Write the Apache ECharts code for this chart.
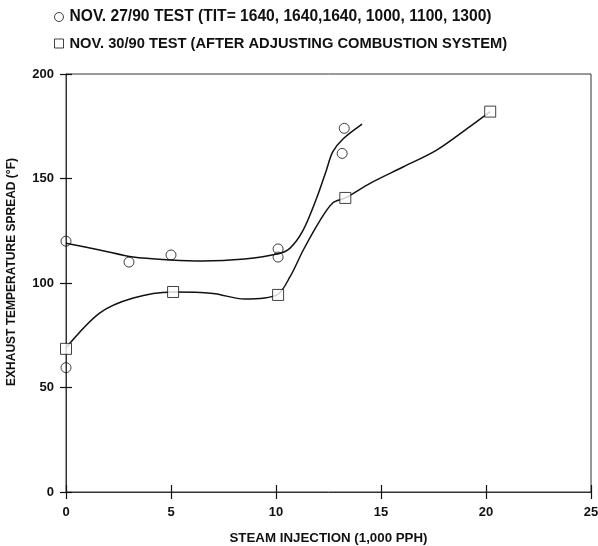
<!DOCTYPE html>
<html><head><meta charset="utf-8">
<script src="https://cdn.jsdelivr.net/npm/echarts@6/dist/echarts.min.js"></script>
<style>html,body{margin:0;padding:0;background:#fff}#c{width:598px;height:546px}</style>
</head><body><div id="c"></div>
<script>
const seriesNames = ['NOV. 27/90 TEST (TIT= 1640, 1640,1640, 1000, 1100, 1300)', 'NOV. 30/90 TEST (AFTER ADJUSTING COMBUSTION SYSTEM)'];
const nov27Points = [[0,120],[0,59.5],[3,110],[5,113.4],[10.1,116.3],[10.1,112.4],[13.25,174],[13.15,162]];
const nov30Points = [[0,68.5],[5.1,95.7],[10.1,94.3],[13.3,140.7],[20.2,182]];
const nov27Curve = [[0,119],[1.6,115.8],[3.2,112.4],[5,111],[6.5,110.5],[8.5,111.5],[10.1,114],[10.67,116.7],[11.3,125.4],[11.95,141],[12.4,154],[12.7,162.7],[13.2,169],[14.1,176]];
const nov30Curve = [[0,69],[1.6,85.6],[3.2,92.8],[5.05,95.7],[7,95],[8.5,92.3],[10.05,94.3],[10.67,103],[11.3,115.8],[12.1,130],[12.7,138.3],[13.3,140.7],[14.5,147.8],[16.05,155.5],[17.65,163.6],[19.2,174.6],[20.2,182]];
const xName = 'STEAM INJECTION (1,000 PPH)';
const yName = 'EXHAUST TEMPERATURE SPREAD (°F)';

const font = 'Liberation Sans, Arial, sans-serif';
const chart = echarts.init(document.getElementById('c'));
const baseX = {type:'value', min:0, max:25, interval:5, gridIndex:0, position:'bottom'};
const baseY = {type:'value', min:0, max:200, interval:50, gridIndex:0, position:'left'};
chart.setOption({
  animation:false,
  backgroundColor:'#fff',
  grid:{left:66, right:7, top:74, bottom:54, show:true, borderColor:'#333', borderWidth:1, outerBoundsMode:'none', containLabel:false},
  legend:{
    orient:'vertical', left:49, top:4, itemGap:11, itemWidth:9, itemHeight:9,
    textStyle:{fontFamily:font, fontSize:15.6, fontWeight:'bold', color:'#111', padding:[0,0,0,1]},
    data:[
      {name:seriesNames[0], icon:'circle', itemStyle:{color:'#fff', borderColor:'#111', borderWidth:1}},
      {name:seriesNames[1], icon:'rect', itemStyle:{color:'#fff', borderColor:'#111', borderWidth:1}, textStyle:{fontSize:14.7}}
    ]
  },
  xAxis:[
    Object.assign({}, baseX, {
      name:xName, nameLocation:'middle', nameGap:40,
      nameTextStyle:{fontFamily:font, fontSize:13.3, fontWeight:'bold', color:'#111'},
      axisLine:{lineStyle:{color:'#333', width:1}},
      axisTick:{length:7, lineStyle:{color:'#111', width:1.2}},
      axisLabel:{fontFamily:font, fontSize:13, fontWeight:'bold', color:'#111', margin:14},
      splitLine:{show:false}
    }),
    Object.assign({}, baseX, {
      axisLine:{show:false}, axisLabel:{show:false},
      axisTick:{inside:true, length:7, lineStyle:{color:'#111', width:1.2}},
      splitLine:{show:false}
    })
  ],
  yAxis:[
    Object.assign({}, baseY, {
      name:yName, nameLocation:'middle', nameGap:48,
      nameTextStyle:{fontFamily:font, fontSize:12, fontWeight:'bold', color:'#111', padding:[0,0,0,22]},
      axisLine:{show:true, lineStyle:{color:'#333', width:1}},
      axisTick:{show:true, length:6, lineStyle:{color:'#111', width:1.2}},
      axisLabel:{fontFamily:font, fontSize:13, fontWeight:'bold', color:'#111', margin:12},
      splitLine:{show:false}
    }),
    Object.assign({}, baseY, {
      axisLine:{show:false}, axisLabel:{show:false},
      axisTick:{show:true, inside:true, length:6, lineStyle:{color:'#111', width:1.2}},
      splitLine:{show:false}
    })
  ],
  series:[
    {type:'line', data:nov27Curve, smooth:0.3, showSymbol:false, clip:false, lineStyle:{color:'#111', width:1.5}, z:2, silent:true},
    {type:'line', data:nov30Curve, smooth:0.3, showSymbol:false, clip:false, lineStyle:{color:'#111', width:1.5}, z:2, silent:true},
    {name:seriesNames[0], type:'scatter', data:nov27Points, symbol:'circle', symbolSize:10, clip:false,
      itemStyle:{color:'rgba(255,255,255,0)', borderColor:'#111', borderWidth:1}, z:3},
    {name:seriesNames[1], type:'scatter', data:nov30Points, symbol:'rect', symbolSize:11, clip:false,
      itemStyle:{color:'#fff', borderColor:'#111', borderWidth:1}, z:4}
  ]
});
</script></body></html>
